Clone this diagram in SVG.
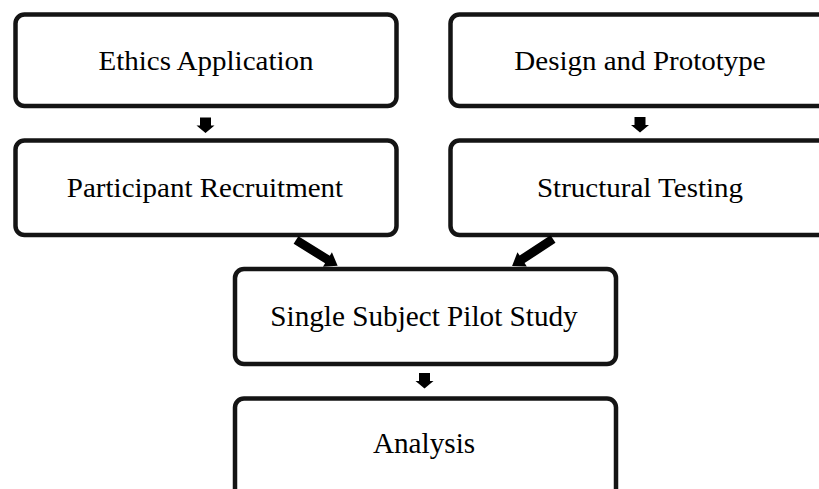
<svg xmlns="http://www.w3.org/2000/svg" width="819" height="489" viewBox="0 0 819 489">
<style>
.box{fill:#ffffff;stroke:#141414;stroke-width:4.5}
.lbl{font-family:"Liberation Serif","Times New Roman",serif;fill:#000;text-anchor:middle}
.top{font-size:27px}
.low{font-size:28.5px}
.arr{fill:#000}
</style>
<defs>
<path id="down" d="M-5.5,0 L5.5,0 L5.5,8 L9,8 L0,15.5 L-9,8 L-5.5,8 Z"/>
<path id="fat" d="M0,-4.5 L37,-4.5 L37,-8.5 L49,0 L37,8.5 L37,4.5 L0,4.5 Z"/>
</defs>
<rect width="819" height="489" fill="#ffffff"/>
<g id="ethics">
<rect class="box" x="15.5" y="14.5" width="381" height="91.5" rx="9"/>
<text class="lbl top" transform="translate(206,70) scale(1.075,1)">Ethics Application</text>
</g>
<g id="design">
<rect class="box" x="450.5" y="14.5" width="400" height="91.5" rx="9"/>
<text class="lbl top" transform="translate(640,70) scale(1.075,1)">Design and Prototype</text>
</g>
<g id="participant">
<rect class="box" x="15.5" y="140.5" width="381" height="94.5" rx="9"/>
<text class="lbl top" transform="translate(205,196.5) scale(1.075,1)">Participant Recruitment</text>
</g>
<g id="structural">
<rect class="box" x="450.5" y="140.5" width="400" height="94.5" rx="9"/>
<text class="lbl top" transform="translate(640,196.5) scale(1.075,1)">Structural Testing</text>
</g>
<g id="pilot">
<rect class="box" x="235" y="269" width="381" height="95" rx="9"/>
<text class="lbl low" transform="translate(424,325.5) scale(1.025,1)">Single Subject Pilot Study</text>
</g>
<g id="analysis">
<rect class="box" x="235" y="398.5" width="381" height="100" rx="9"/>
<text class="lbl low" transform="translate(424,453.3) scale(1.025,1)">Analysis</text>
</g>
<g id="connectors" class="arr">
<use href="#down" transform="translate(205.5,117.5)"/>
<use href="#down" transform="translate(640,117)"/>
<use href="#down" transform="translate(424.5,373)"/>
<use href="#fat" transform="translate(296,240) rotate(31.8)"/>
<use href="#fat" transform="translate(553,239) rotate(146.6)"/>
</g>
</svg>
